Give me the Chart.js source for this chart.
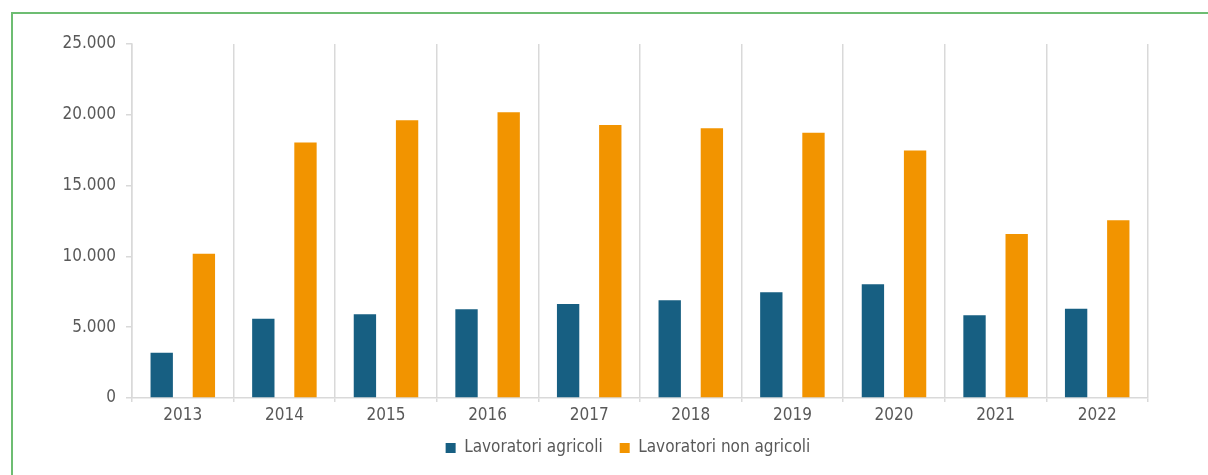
<!DOCTYPE html>
<html lang="it">
<head>
<meta charset="utf-8">
<title>Lavoratori agricoli e non agricoli</title>
<script src="https://cdn.jsdelivr.net/npm/chart.js@4.4.1/dist/chart.umd.min.js"></script>
<style>
  html, body { margin: 0; padding: 0; background: #fff; overflow: hidden; }
  #wrap { position: relative; width: 1208px; height: 475px; }
  #frame {
    position: absolute; left: 11px; top: 12px; width: 1400px; height: 600px;
    border-left: 2px solid #6dbd72; border-top: 2px solid #6dbd72;
  }
  #chart { position: absolute; left: 0; top: 0; }
</style>
</head>
<body>
<div id="wrap">
  <div id="frame"></div>
  <canvas id="chart" width="1208" height="475"></canvas>
</div>
<script>
// Dati
const anni = ['2013', '2014', '2015', '2016', '2017', '2018', '2019', '2020', '2021', '2022'];
const agricoli = [3200, 5600, 5910, 6260, 6640, 6900, 7460, 8030, 5840, 6310];
const nonAgricoli = [10190, 18050, 19610, 20180, 19280, 19050, 18740, 17470, 11580, 12560];
const tickY = [0, 5000, 10000, 15000, 20000, 25000];

const FONT = '"Liberation Sans Narrow", "DejaVu Sans Condensed", "Roboto", sans-serif';
const TXT = '#595959';
const GRID = '#d9d9d9';

// formato italiano: 25.000
function fmt(v) {
    return String(v).replace(/\B(?=(\d{3})+(?!\d))/g, '.');
}

// legenda centrata sull'area del grafico, riga sotto le etichette degli anni
const legendShift = {
    id: 'legendShift',
    afterLayout(chart) {
        const lg = chart.legend;
        if (!lg) return;
        const mid = (chart.chartArea.left + chart.chartArea.right) / 2 - 12;
        const dx = mid - (lg.left + lg.right) / 2;
        lg.left += dx; lg.right += dx;
        const pad = lg.options.labels.padding;
        const dy = 448 - (lg.top + pad + 8.5);
        lg.top += dy; lg.bottom += dy;
    }
};

Chart.defaults.font.family = FONT;
Chart.defaults.font.size = 17;
Chart.defaults.color = TXT;

new Chart(document.getElementById('chart').getContext('2d'), {
    type: 'bar',
    data: {
        labels: anni,
        datasets: [
            { label: 'Lavoratori agricoli', data: agricoli, backgroundColor: '#175f82' },
            { label: 'Lavoratori non agricoli', data: nonAgricoli, backgroundColor: '#f29400' }
        ]
    },
    options: {
        responsive: false,
        animation: false,
        datasets: { bar: { categoryPercentage: 0.83, barPercentage: 0.53 } },
        layout: { padding: { left: 0, right: 60, top: 44, bottom: 7 } },
        plugins: {
            tooltip: { enabled: false },
            legend: {
                position: 'bottom',
                labels: { boxWidth: 10, boxHeight: 10, padding: 17, color: TXT, font: { size: 17 } }
            }
        },
        scales: {
            x: {
                grid: { offset: true, color: GRID, lineWidth: 1.5, tickLength: 4 },
                border: { color: GRID, width: 1.5 },
                ticks: { padding: 3, color: TXT },
                afterFit: (s) => { s.height = 26; }
            },
            y: {
                min: 0, max: 25000,
                afterBuildTicks: (s) => { s.ticks = tickY.map(v => ({ value: v })); },
                grid: { drawOnChartArea: false, color: GRID, lineWidth: 1.5, tickLength: 6 },
                border: { color: GRID, width: 1.5 },
                ticks: { padding: 10, color: TXT, callback: (v) => fmt(v) },
                afterFit: (s) => { s.width = 132; }
            }
        }
    },
    plugins: [legendShift]
});
</script>
</body>
</html>
